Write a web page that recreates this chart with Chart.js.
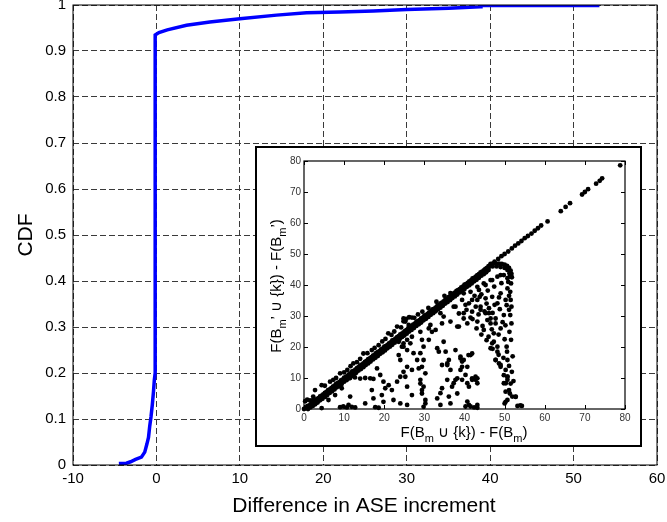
<!DOCTYPE html>
<html>
<head>
<meta charset="utf-8">
<script src="https://cdn.jsdelivr.net/npm/chart.js@4.4.1/dist/chart.umd.min.js"></script>
<style>
  html, body { margin: 0; padding: 0; background: #fff; }
  #wrap { position: relative; width: 667px; height: 522px; overflow: hidden; }
  #main { position: absolute; left: 0; top: 0; }
  #insetBox { position: absolute; left: 255px; top: 146px; width: 387px; height: 301px;
              border: 2px solid #000; box-sizing: border-box; background: #fff; }
  #inset { position: absolute; left: 0; top: 0; }
</style>
</head>
<body>
<div id="wrap">
  <canvas id="main" width="667" height="522"></canvas>
  <div id="insetBox"><canvas id="inset" width="383" height="297"></canvas></div>
</div>
<script>
// ---- Main plot: CDF of the difference in ASE increment ----
const cdfDiff = [-4.5, -3.6, -3.1, -2.5, -1.8, -1.4, -1.15, -0.95, -0.8, -0.65, -0.5, -0.35, -0.25, -0.15,
                 -0.15, 0.3, 1.3, 3.6, 6.4, 10, 14.4, 18, 22, 26, 30, 35, 38.8, 38.9, 53.1];
const cdfProb = [0.003, 0.004, 0.007, 0.012, 0.017, 0.028, 0.045, 0.06, 0.085, 0.105, 0.13, 0.16, 0.185, 0.2,
                 0.935, 0.94, 0.946, 0.956, 0.963, 0.97, 0.978, 0.983, 0.985, 0.987, 0.99, 0.993, 0.996, 0.999, 0.999];
const mainXTicks = [-10, 0, 10, 20, 30, 40, 50, 60];
const mainYTicks = [0, 0.1, 0.2, 0.3, 0.4, 0.5, 0.6, 0.7, 0.8, 0.9, 1];
const mainYLabels = ['0', '0.1', '0.2', '0.3', '0.4', '0.5', '0.6', '0.7', '0.8', '0.9', '1'];
const mainXTitle = 'Difference in ASE increment';
const mainYTitle = 'CDF';

// ---- Inset: marginal gain for B_m' versus B_m ----
const insetTicks = [0, 10, 20, 30, 40, 50, 60, 70, 80];
// points lying on the diagonal
const bandPoints = [
  [0,0],[0.4,0.3],[0.8,0.9],[1.2,1.1],[1.6,1.5],[2,2.1],[2.4,2.3],[2.8,2.7],[3.2,3.2],[3.6,3.5],
  [4,4.1],[4.4,4.3],[4.8,4.7],[5.2,5.2],[5.6,5.5],[6,6.1],[6.4,6.3],[6.8,6.7],[7.2,7.2],[7.6,7.5],
  [8,8.1],[8.4,8.3],[8.8,8.7],[9.2,9.2],[9.6,9.5],[10,10.1],[10.4,10.3],[10.8,10.7],[11.2,11.2],[11.6,11.5],
  [12,12.1],[12.4,12.3],[12.8,12.7],[13.2,13.2],[13.6,13.5],[14,14.1],[14.4,14.3],[14.8,14.7],[15.2,15.2],[15.6,15.5],
  [16,16.1],[16.4,16.3],[16.8,16.7],[17.2,17.2],[17.6,17.5],[18,18.1],[18.4,18.3],[18.8,18.7],[19.2,19.2],[19.6,19.5],
  [20,20.1],[20.4,20.3],[20.8,20.7],[21.2,21.2],[21.6,21.5],[22,22.1],[22.4,22.3],[22.8,22.7],[23.2,23.2],[23.6,23.5],
  [24,24.1],[24.4,24.3],[24.8,24.7],[25.2,25.2],[25.6,25.5],[26,26.1],[26.4,26.3],[26.8,26.7],[27.2,27.2],[27.6,27.5],
  [28,28.1],[28.4,28.3],[28.8,28.7],[29.2,29.2],[29.6,29.5],[30,30.1],[30.4,30.3],[30.8,30.7],[31.2,31.2],[31.6,31.5],
  [32,32.1],[32.4,32.3],[32.8,32.7],[33.2,33.2],[33.6,33.5],[34,34.1],[34.4,34.3],[34.8,34.7],[35.2,35.2],[35.6,35.5],
  [36,36.1],[36.4,36.3],[36.8,36.7],[37.2,37.2],[37.6,37.5],[38,38.1],[38.4,38.3],[38.8,38.7],[39.2,39.2],[39.6,39.5],
  [40,40.1],[40.4,40.3],[40.8,40.7],[41.2,41.2],[41.6,41.5],[42,42.1],[42.4,42.3],[42.8,42.7],[43.2,43.2],[43.6,43.5],
  [44,44.1],[44.4,44.3],[44.8,44.7],[45.2,45.2],[45.6,45.5],[46,46.1],[46.4,46.3],[46.8,46.7],
  [1,0],[1.6,0.5],[2.2,1],[2.8,1.5],[3.4,2.1],[4,2.8],[4.6,3.3],[5.2,3.9],[5.8,4.5],[6.4,5.2],
  [7,5.7],[7.6,6.3],[8.2,7],[8.8,7.5],[9.4,8.1],[10,8.8],[10.6,9.3],[11.2,9.9],[11.8,10.6],[12.4,11.1],
  [13,11.7],[13.6,12.4],[14.2,12.9],[14.8,13.5],[15.4,14.2],[16,14.7],[16.6,15.3],[17.2,16],[17.8,16.5],[18.4,17.1],
  [19,17.8],[19.6,18.3],[20.2,18.9],[20.8,19.6],[21.4,20.1],[22,20.7],[22.6,21.4],[23.2,21.9],[23.8,22.5],[24.4,23.2],
  [25,23.7],[25.6,24.3],[26.2,25],[26.8,25.5],[27.4,26.1],[28,26.8],[28.6,27.3],[29.2,27.9],[29.8,28.6],[30.4,29.1],
  [31,29.7],[31.6,30.4],[32.2,30.9],[32.8,31.5],[33.4,32.2],[34,32.7],[34.6,33.3],[35.2,34],[35.8,34.5],[36.4,35.1],
  [37,35.8],[37.6,36.3],[38.2,36.9],[38.8,37.6],[39.4,38.1],[40,38.7],[40.6,39.4],[41.2,39.9],[41.8,40.5],[42.4,41.2],
  [43,41.7],[43.6,42.3],[44.2,43],[44.8,43.5],[45.4,44.1],[46,44.8]
];
// points just above the diagonal
const upperPoints = [
  [0.3,2.5],[0.8,3],[1.5,2.8],[2.3,4],[2.75,6.1],[4.4,7.7],[5.2,7.5],[6.5,8.8],[7.3,9.4],[8,10],
  [9,11.5],[10,11.8],[10.8,12.6],[11.6,13.8],[12.3,14.7],[13.2,15.1],[14,16.2],[14.8,17.9],[15.8,18],[16.9,19],
  [17.6,19.7],[18.6,20.6],[19.5,21.8],[20.3,22.6],[21,24.4],[21.8,23.9],[22.5,25],[23.2,26.6],[24.2,26.3],[24.8,28.3],
  [25.5,29.1],[26.2,29.6],[26.9,29.5],[27.5,29.4],[28.4,30.5],[29.5,31.4],[31,32.6],[33,34.6],[35,36.5],[36.5,37.4]
];
// curl at the end of the dense band and the sparse tail of the diagonal
const tailPoints = [
  [46.5,46.8],[47.2,47],[47.9,46.9],[48.6,46.9],[49.3,46.8],[50,46.6],[50.6,46.2],[51.1,45.5],[51.5,44.6],[51.7,43.6],
  [51.8,42.5],[46,45.6],[47,46],[48,46],[49,45.8],[50,45.5],[50.7,44.8],[51.2,43.8],[51.3,42.8],
  [47.5,47.5],[48.4,48.4],[49.2,49.3],[50,50],[50.9,50.8],[51.8,51.8],[52.6,52.7],[53.4,53.4],[54.2,54.2],[55,55.1],
  [55.8,55.8],[56.7,56.6],[57.5,57.5],[58.3,58.3],[59.1,59.2],[60.7,60.5],[64,63.8],[65.2,65.2],[66.3,66.4],
  [69.3,69.2],[70,70],[70.8,70.9],[72.8,72.7],[73.7,73.6],[74.3,74.4],[78.8,78.6]
];
// points spread below the diagonal
const spreadPoints = [
  [11.5,10],[12.7,10.2],[14,9.8],[15.25,10],[16.5,9.9],[17.3,9.7],[9.4,6.7],[7.75,4.5],[6.1,2.9],[4.4,0.3],
  [11.5,4],[9.8,0.8],[9,0.6],[10.7,0.5],[11.9,0.7],[12.75,0.5],[18.2,13.1],[19,10.97],[19.8,8.8],[20.25,6.7],
  [16.9,6.1],[17.3,3.4],[19.4,4.5],[19.8,2.3],[17.75,0.6],[18.6,0.4],[15.25,1.8],[11.1,1.3],[21.1,7.7],[21.9,6.1],
  [23.2,8.8],[24,10.4],[24.8,12],[25.7,13.6],[24,15.8],[23.6,17.4],[24.8,21.2],[25.7,19],[22.3,2.9],[24,1.8],
  [25.7,1.3],[5.25,3.9],[2.3,2.9],
  [23.6,21.7],[24.4,20.1],[26.9,23.3],[27.3,18],[28.2,15.8],[28.6,13.1],[26.9,12.6],[25.25,10.4],[25.7,7.2],[26.9,4.5],
  [29,8.2],[29.4,6.1],[30.25,1.8],[31.1,22.3],[31.5,27.1],[33.2,19.6],[33.6,18.5],[32.8,25.5],[34.4,27.6],[36.1,15.8],
  [35.7,14.2],[36.5,12.6],[37.75,19],[39,12.6],[40.25,11],[37.75,9.4],[36.9,7.2],[38.2,5],[41.1,7.2],[40.25,0.8],
  [41.1,1.3],[34.4,6.7],[35.7,9.4],[33.2,3.4],[34,1.3],[37.75,33],[39.4,35.2],[40.25,33.6],[38.6,30.8],[39.8,29.2],
  [24.8,29.2],[25.25,28.2],[26.1,27.1],[25.25,24.9],[24.4,23.3],[25.7,22.3],[26.5,21.2],[24.8,20.1],[31.1,26],[31.9,24.9],
  [34,30.9],[34.8,29.8],[36.5,28.2],[38.2,26.6],[34.8,21.7],[35.3,18.5],[34.4,14.2],[35.7,14.7],[37.3,33],
  [28.6,27.6],[29,24.9],[29.4,22.3],[29.8,20.1],[29,18],[29.8,15.8],[29.4,13.6],[30.25,11.5],[29,9.4],[29.8,7.2],
  [29.4,5],[30.25,2.9],[29.8,0.7],
  [39.8,37.3],[41.5,37.8],[43.2,39.4],[44.8,40.5],[46.5,41.6],[48.2,42.7],[49.8,43.2],
  [41.1,34.1],[43.2,35.2],[45.25,35.7],[46.9,36.2],[49,37.3],[50.7,38.9],
  [39.8,30.9],[41.9,31.4],[44,32],[46.1,32.5],[48.2,34.1],[50.25,35.2],[51.1,36.5],
  [38.6,26.6],[40.7,27.6],[43.2,28.2],[45.7,28.7],[47.75,29.2],[49.8,30.3],[51.1,32],
  [41.9,35.2],[44,33],[45.25,30.9],[46.5,29.2],[47.75,27.6],[49,26],
  [43.6,38.4],[45.25,40],[46.9,41.6],[49,43.2],[50.7,42.2],
  [44.8,25.5],[46,23.3],[47.3,21.7],[46.5,19.6],[48.2,20.1],[39,16.9],[39.8,15.8],[39.4,13.6],[41,17.4],[41.9,17.9],
  [38.2,9.9],[39.4,9.4],[37.3,8.3],[40.7,8.3],[41.9,9.9],[42.75,10.4],[43.2,8.3],[34,5.1],[36.1,4],[36.5,1.8],
  [40.7,2.4],[41.5,0.8],[43.2,1.3],[43.2,0.4],[42.4,0.5],
  [51.6,40.5],[51.4,37.8],[51.5,35.2],[51.7,33],[51.4,30.3],[51.7,27.6],[51.2,24.9],[51.6,22.3],
  [50.5,20.1],[50.7,15.8],[51.1,13.9],[50.7,10.4],[50.3,8.3],[51.9,4],[52.75,4],[53.2,1],[53.9,1.2],[54.3,1],
  [50,1.8],[50.7,2.9],[50.25,5.6],[49.8,8.3],[49.8,10.9],[50.7,9.4],[49,13.6],[48.6,14.7],[47.75,15.8],
  [46.1,30.9],[46.5,27.6],[47.3,24.4],[46.9,21.2],[48.2,18.5],[47.75,15.8],[49,14.2],[50.25,12.6],[50.7,10.4],[51.5,8.2],
  [51.1,6.1],[50.25,2.3],[52.75,3.9],[39,16.3],[39.4,15.3],[41.5,17.4],[40.7,13.6],[41.9,9.4],[42.75,9.4],[43.2,9.9],
  [42.5,36.5],[44.2,37],[45.8,38.2],[47.4,39.5],[49.2,40.6],[50.9,41],[43.5,30.5],[45,31.5],[47,31],[48.8,32.2],
  [50.5,33.5],[42,29],[44.5,26.8],[46.8,25.7],[48.5,24],[50,22.5],[49.5,28],[50.2,27],[48.6,36],[47.5,33.6],
  [45.5,34],[43.8,36.2],[42.8,33],[40.5,32],[41.5,29.5],[43,26],[44.2,24],[45.5,22.2],[47,19.4],[48.5,17.5],
  [49.7,16.5],[50.6,18.5],[52,17],[51.8,12],[52.2,9],[51.3,5]
];
const insetXTitle = [['F(B', 0], ['m', 1], [' \u222A {k}) - F(B', 0], ['m', 1], [')', 0]];
const insetYTitle = [['F(B', 0], ['m', 1], ['\u2019 \u222A {k}) - F(B', 0], ['m', 1], ['\u2019)', 0]];

const FONT = '"Liberation Sans", Arial, Helvetica, sans-serif';
const toXY = arr => arr.map(p => ({ x: p[0], y: p[1] }));

// Solid box around the plotting area
const frameBox = {
  id: 'frameBox',
  afterDraw(chart, args, opts) {
    const { ctx, chartArea: a } = chart;
    ctx.save();
    ctx.strokeStyle = '#000';
    ctx.lineWidth = opts.width || 1;
    ctx.strokeRect(a.left, a.top, a.right - a.left, a.bottom - a.top);
    ctx.restore();
  }
};

// Inward tick marks on all four sides of the inset axes
const innerTicks = {
  id: 'innerTicks',
  afterDraw(chart, args, opts) {
    if (!opts.values) return;
    const { ctx, chartArea: a, scales } = chart;
    const len = opts.length;
    ctx.save();
    ctx.strokeStyle = '#000';
    ctx.lineWidth = 1;
    ctx.beginPath();
    opts.values.forEach(v => {
      const px = Math.round(scales.x.getPixelForValue(v)) + 0.5;
      const py = Math.round(scales.y.getPixelForValue(v)) + 0.5;
      ctx.moveTo(px, a.bottom); ctx.lineTo(px, a.bottom - len);
      ctx.moveTo(px, a.top); ctx.lineTo(px, a.top + len);
      ctx.moveTo(a.left, py); ctx.lineTo(a.left + len, py);
      ctx.moveTo(a.right, py); ctx.lineTo(a.right - len, py);
    });
    ctx.stroke();
    ctx.restore();
  }
};

// Axis titles (with subscripts where needed)
function drawRuns(ctx, runs, size, subSize, subDrop) {
  let w = 0;
  runs.forEach(r => { ctx.font = (r[1] ? subSize : size) + 'px ' + FONT; w += ctx.measureText(r[0]).width; });
  let x = -w / 2;
  runs.forEach(r => {
    ctx.font = (r[1] ? subSize : size) + 'px ' + FONT;
    ctx.fillText(r[0], x, r[1] ? subDrop : 0);
    x += ctx.measureText(r[0]).width;
  });
}
const axisTitles = {
  id: 'axisTitles',
  afterDraw(chart, args, o) {
    const ctx = chart.ctx;
    ctx.save();
    ctx.fillStyle = '#000';
    ctx.textAlign = 'left';
    ctx.textBaseline = 'alphabetic';
    ctx.save();
    ctx.translate(o.xPos[0], o.xPos[1]);
    drawRuns(ctx, o.xRuns, o.size, o.subSize, o.subDrop);
    ctx.restore();
    ctx.save();
    ctx.translate(o.yPos[0], o.yPos[1]);
    ctx.rotate(-Math.PI / 2);
    drawRuns(ctx, o.yRuns, o.size, o.subSize, o.subDrop);
    ctx.restore();
    ctx.restore();
  }
};

const gridDash = [6, 3];

new Chart(document.getElementById('main'), {
  type: 'line',
  data: {
    datasets: [{
      data: cdfDiff.map((x, i) => ({ x, y: cdfProb[i] })),
      borderColor: '#0000ff',
      borderWidth: 3.5,
      pointRadius: 0,
      tension: 0,
      fill: false,
      borderCapStyle: 'butt'
    }]
  },
  options: {
    responsive: false,
    animation: false,
    events: [],
    layout: { padding: { left: 0, right: 10, top: 5, bottom: 0 } },
    plugins: {
      legend: { display: false },
      tooltip: { enabled: false },
      frameBox: { width: 1 },
      axisTitles: {
        xPos: [364, 512], yPos: [32, 235], size: 21, subSize: 14, subDrop: 5,
        xRuns: [[mainXTitle, 0]], yRuns: [[mainYTitle, 0]]
      }
    },
    scales: {
      x: {
        type: 'linear', min: -10, max: 60,
        afterBuildTicks: s => { s.ticks = mainXTicks.map(v => ({ value: v })); },
        afterFit: s => { s.height = 57; s.paddingLeft = 0; s.paddingRight = 0; },
        ticks: { color: '#000', font: { family: FONT, size: 15 }, padding: 5, maxRotation: 0, autoSkip: false },
        grid: { color: '#3a3a3a', lineWidth: 1, drawTicks: false },
        border: { display: false, dash: gridDash }
      },
      y: {
        type: 'linear', min: 0, max: 1,
        afterBuildTicks: s => { s.ticks = mainYTicks.map(v => ({ value: v })); },
        afterFit: s => { s.width = 73; s.paddingTop = 0; s.paddingBottom = 0; },
        ticks: {
          color: '#000', font: { family: FONT, size: 15 }, padding: 7, autoSkip: false,
          callback: (v, i) => mainYLabels[i]
        },
        grid: { color: '#3a3a3a', lineWidth: 1, drawTicks: false },
        border: { display: false, dash: gridDash }
      }
    }
  },
  plugins: [frameBox, axisTitles]
});

const dot = { pointRadius: 2.4, pointBackgroundColor: '#000', pointBorderWidth: 0, showLine: false, clip: 4 };

new Chart(document.getElementById('inset'), {
  type: 'scatter',
  data: {
    datasets: [
      Object.assign({ data: toXY(bandPoints) }, dot),
      Object.assign({ data: toXY(upperPoints) }, dot),
      Object.assign({ data: toXY(spreadPoints) }, dot),
      Object.assign({ data: toXY(tailPoints) }, dot)
    ]
  },
  options: {
    responsive: false,
    animation: false,
    events: [],
    layout: { padding: { left: 0, right: 15, top: 13, bottom: 0 } },
    plugins: {
      legend: { display: false },
      tooltip: { enabled: false },
      frameBox: { width: 1.2 },
      innerTicks: { values: insetTicks, length: 4 },
      axisTitles: {
        xPos: [207, 289], yPos: [24, 138], size: 15, subSize: 11, subDrop: 5,
        xRuns: insetXTitle, yRuns: insetYTitle
      }
    },
    scales: {
      x: {
        type: 'linear', min: 0, max: 80,
        afterBuildTicks: s => { s.ticks = insetTicks.map(v => ({ value: v })); },
        afterFit: s => { s.height = 36; s.paddingLeft = 0; s.paddingRight = 0; },
        ticks: { color: '#333', font: { family: FONT, size: 10 }, padding: 3, maxRotation: 0, autoSkip: false },
        grid: { display: false, drawTicks: false },
        border: { display: false }
      },
      y: {
        type: 'linear', min: 0, max: 80,
        afterBuildTicks: s => { s.ticks = insetTicks.map(v => ({ value: v })); },
        afterFit: s => { s.width = 47; s.paddingTop = 0; s.paddingBottom = 0; },
        ticks: { color: '#333', font: { family: FONT, size: 10 }, padding: 3, autoSkip: false },
        grid: { display: false, drawTicks: false },
        border: { display: false }
      }
    }
  },
  plugins: [frameBox, innerTicks, axisTitles]
});
</script>
</body>
</html>
